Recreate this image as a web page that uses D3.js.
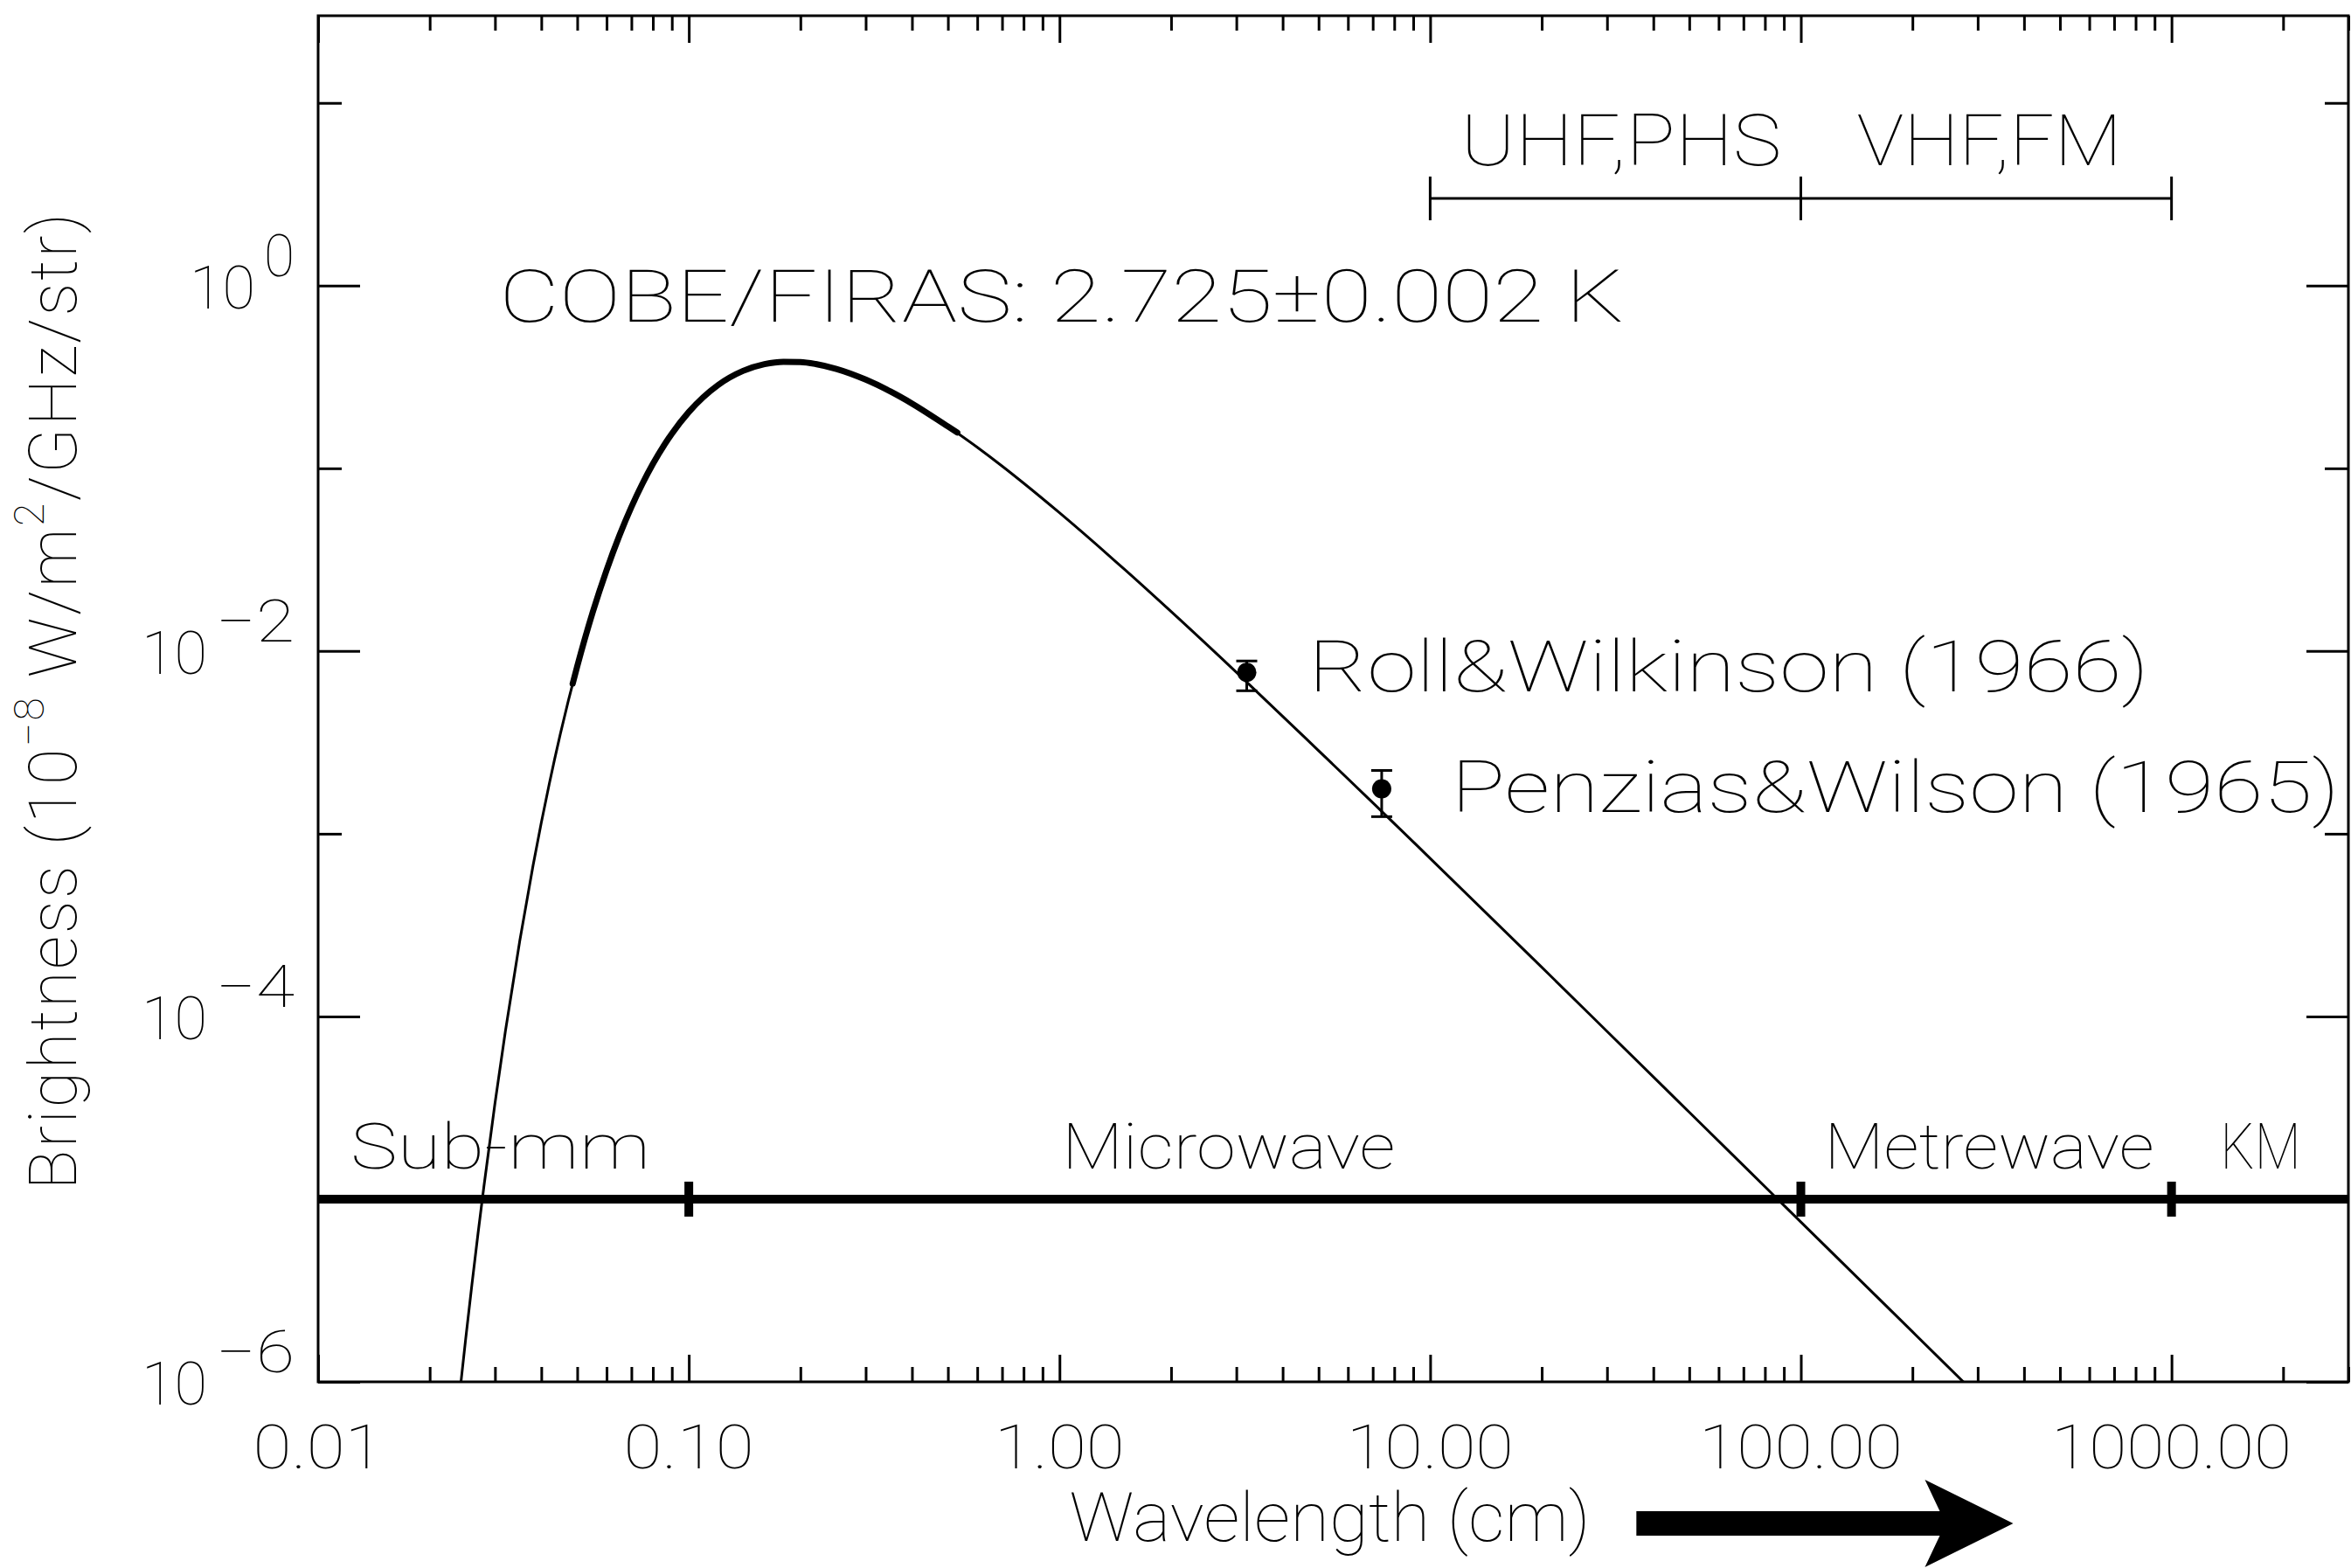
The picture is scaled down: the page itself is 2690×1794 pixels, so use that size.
<!DOCTYPE html>
<html>
<head>
<meta charset="utf-8">
<script src="https://cdn.jsdelivr.net/npm/d3@7"></script>
<style>
  html, body { margin: 0; padding: 0; background: #ffffff; }
  svg { display: block; }
  text { font-family: Roboto, "DejaVu Sans", sans-serif; font-weight: 100; fill: #000; }
</style>
</head>
<body>
<svg id="chart" width="2690" height="1794"></svg>
<script>
// ---------------- DATA ----------------
// Blackbody curve (thin line): wavelength in cm, brightness in 1e-8 W/m^2/GHz/str
const wavelengthCm = [0.024, 0.0243, 0.025, 0.026, 0.027, 0.028, 0.03, 0.032, 0.035, 0.038, 0.04, 0.042, 0.045,
  0.05, 0.055, 0.06, 0.065, 0.07, 0.075, 0.08, 0.09, 0.1, 0.12, 0.14, 0.16, 0.18, 0.2, 0.22, 0.25, 0.3,
  0.35, 0.4, 0.5, 0.6, 0.7, 0.8, 1, 1.5, 2, 3, 5, 7, 10, 20, 30, 50, 100, 200, 280];
const brightness = [8.0e-7, 1.01e-6, 1.71e-6, 3.42e-6, 6.49e-6, 1.17e-5, 3.35e-5, 8.28e-5, 2.60e-4, 6.69e-4, 1.15e-3, 1.86e-3, 3.50e-3,
  8.24e-3, 0.0162, 0.0277, 0.0429, 0.0614, 0.0825, 0.1057, 0.1547, 0.2033, 0.2858, 0.3412, 0.3715, 0.3829, 0.3817, 0.3723, 0.3500, 0.3058,
  0.2633, 0.2263, 0.1695, 0.1304, 0.1029, 0.0830, 0.0571, 0.0279, 0.01644, 7.65e-3, 2.85e-3, 1.48e-3, 7.33e-4, 1.86e-4, 8.29e-5, 2.99e-5, 7.5e-6, 1.88e-6, 9.6e-7];

// COBE/FIRAS measured range (thick line)
const firasWavelengthCm = [0.0486, 0.05, 0.055, 0.06, 0.065, 0.07, 0.075, 0.08, 0.09, 0.1, 0.12, 0.14, 0.16, 0.18,
  0.2, 0.22, 0.25, 0.3, 0.35, 0.4, 0.5, 0.53];
const firasBrightness = [6.62e-3, 8.24e-3, 0.0162, 0.0277, 0.0429, 0.0614, 0.0825, 0.1057, 0.1547, 0.2033, 0.2858, 0.3412, 0.3715, 0.3829,
  0.3817, 0.3723, 0.3500, 0.3058, 0.2633, 0.2263, 0.1695, 0.1570];

// Historic measurements with error bars
const pointNames = ["Roll&Wilkinson (1966)", "Penzias&Wilson (1965)"];
const pointWavelength = [3.2, 7.4];
const pointValue = [7.64e-3, 1.76e-3];
const pointLow = [6.06e-3, 1.24e-3];
const pointHigh = [8.82e-3, 2.22e-3];

// Axis ticks
const xTickValues = [0.01, 0.1, 1, 10, 100, 1000];
const xTickLabels = ["0.01", "0.10", "1.00", "10.00", "100.00", "1000.00"];
const yMajorTicks = [1, 1e-2, 1e-4, 1e-6];
const yTickExponents = ["0", "\u22122", "\u22124", "\u22126"];
const yMinorTicks = [10, 1e-1, 1e-3, 1e-5];

// Wave bands
const bandNames = ["Sub-mm", "Microwave", "Metrewave", "KM"];
const bandEdges = [0.1, 100, 1000];
const bandLevel = 1e-5;
const radioNames = ["UHF,PHS", "VHF,FM"];
const radioEdges = [10, 100, 1000];
const radioLevel = 3;

const titleText = "COBE/FIRAS: 2.725\u00b10.002 K";

// ---------------- LAYOUT / ANNOTATION PLACEMENT ----------------
const W = 2690, H = 1794;
const margin = { left: 364, top: 18, right: 3, bottom: 213 };
const X0 = margin.left, X1 = W - margin.right, Y0 = margin.top, Y1 = H - margin.bottom;

// text spans as [startWavelength, endWavelength, baselineValue]
const titlePlace = [0.0308, 33.4, 0.637];
const pointLabelPlace = [[4.70, 868, 6.0e-3], [11.40, 2838, 1.31e-3]];
const bandLabelPlace = [[0.01223, 0.0788], [1.016, 8.05], [115.8, 897], [1355, 2233]];
const bandLabelBaseline = 1.47e-5;
const radioLabelPlace = [[12.09, 88.7], [141.6, 734]];
const radioLabelBaseline = 4.58;
const arrowSpan = [36, 374];

const svg = d3.select("#chart");
const x = d3.scaleLog().domain([0.01, 3000]).range([X0, X1]);
const y = d3.scaleLog().domain([1e-6, 30]).range([Y1, Y0]);

svg.append("rect").attr("width", W).attr("height", H).attr("fill", "#fff");

svg.append("defs").append("clipPath").attr("id", "plotclip")
  .append("rect").attr("x", X0).attr("y", Y0).attr("width", X1 - X0).attr("height", Y1 - Y0);

// ---------------- AXES (inward ticks on all four sides) ----------------
const minorX = [];
xTickValues.forEach(d => { for (let k = 2; k <= 9; k++) { const v = k * d; if (v <= 3000 * 1.0001) minorX.push(v); } });

function styleAxis(g) {
  g.select(".domain").remove();
  g.selectAll(".tick line").attr("stroke", "#000").attr("stroke-width", 3);
  g.selectAll(".tick text").remove();
}
svg.append("g").attr("transform", `translate(0,${Y1})`)
  .call(d3.axisBottom(x).tickValues(xTickValues).tickSize(-31).tickSizeOuter(0).tickFormat("")).call(styleAxis);
svg.append("g").attr("transform", `translate(0,${Y1})`)
  .call(d3.axisBottom(x).tickValues(minorX).tickSize(-17).tickSizeOuter(0).tickFormat("")).call(styleAxis);
svg.append("g").attr("transform", `translate(0,${Y0})`)
  .call(d3.axisTop(x).tickValues(xTickValues).tickSize(-31).tickSizeOuter(0).tickFormat("")).call(styleAxis);
svg.append("g").attr("transform", `translate(0,${Y0})`)
  .call(d3.axisTop(x).tickValues(minorX).tickSize(-17).tickSizeOuter(0).tickFormat("")).call(styleAxis);
svg.append("g").attr("transform", `translate(${X0},0)`)
  .call(d3.axisLeft(y).tickValues(yMajorTicks).tickSize(-48).tickSizeOuter(0).tickFormat("")).call(styleAxis);
svg.append("g").attr("transform", `translate(${X0},0)`)
  .call(d3.axisLeft(y).tickValues(yMinorTicks).tickSize(-27).tickSizeOuter(0).tickFormat("")).call(styleAxis);
svg.append("g").attr("transform", `translate(${X1},0)`)
  .call(d3.axisRight(y).tickValues(yMajorTicks).tickSize(-48).tickSizeOuter(0).tickFormat("")).call(styleAxis);
svg.append("g").attr("transform", `translate(${X1},0)`)
  .call(d3.axisRight(y).tickValues(yMinorTicks).tickSize(-27).tickSizeOuter(0).tickFormat("")).call(styleAxis);

// frame
svg.append("rect").attr("x", X0).attr("y", Y0).attr("width", X1 - X0).attr("height", Y1 - Y0)
  .attr("fill", "none").attr("stroke", "#000").attr("stroke-width", 3);

// x tick labels
const digitW = 42, dotW = 23;
svg.append("g").selectAll("text").data(xTickValues).join("text")
  .attr("x", d => x(d)).attr("y", Y1 + 99)
  .attr("text-anchor", "middle").attr("font-size", 70)
  .attr("textLength", (d, i) => { const s = xTickLabels[i]; return (s.length - 1) * digitW + dotW; })
  .attr("lengthAdjust", "spacingAndGlyphs")
  .text((d, i) => xTickLabels[i]);

// y tick labels: 10^n  (exponent right-aligned at axis - 27)
const expRight = X0 - 27;
const expWidth = s => (s.length > 1 ? 90 : 35);
const ylg = svg.append("g").selectAll("g").data(yMajorTicks).join("g");
ylg.append("text")
  .attr("x", (d, i) => expRight - expWidth(yTickExponents[i]) - 10 - 75)
  .attr("y", d => y(d) + 26)
  .attr("font-size", 68).attr("textLength", 75).attr("lengthAdjust", "spacingAndGlyphs")
  .text("10");
ylg.append("text")
  .attr("x", (d, i) => expRight - expWidth(yTickExponents[i]))
  .attr("y", d => y(d) - 11)
  .attr("font-size", 66)
  .attr("textLength", (d, i) => expWidth(yTickExponents[i])).attr("lengthAdjust", "spacingAndGlyphs")
  .text((d, i) => yTickExponents[i]);

// axis titles
svg.append("text").attr("x", (X0 + X1) / 2 - 4).attr("y", 1763)
  .attr("text-anchor", "middle").attr("font-size", 78)
  .attr("textLength", 596).attr("lengthAdjust", "spacingAndGlyphs")
  .text("Wavelength (cm)");

const yt = svg.append("text").attr("transform", `translate(87,${(Y0 + Y1) / 2 + 2}) rotate(-90)`)
  .attr("text-anchor", "middle").attr("font-size", 76);
yt.append("tspan").text("Brightness (10");
yt.append("tspan").attr("dy", -37).attr("font-size", 48).text("\u22128");
yt.append("tspan").attr("dy", 37).text(" W/m");
yt.append("tspan").attr("dy", -37).attr("font-size", 48).text("2");
yt.append("tspan").attr("dy", 37).text("/GHz/str)");
(function fit(node, target) {
  const n = node.getNumberOfChars();
  const w = node.getComputedTextLength();
  node.setAttribute("letter-spacing", ((target - w) / n).toFixed(2));
})(yt.node(), 1120);

// ---------------- WAVE BANDS ----------------
svg.append("line").attr("x1", X0).attr("x2", X1).attr("y1", y(bandLevel)).attr("y2", y(bandLevel))
  .attr("stroke", "#000").attr("stroke-width", 10);
svg.append("g").selectAll("rect").data(bandEdges).join("rect")
  .attr("x", d => x(d) - 5).attr("y", y(bandLevel) - 20).attr("width", 10).attr("height", 40).attr("fill", "#000");
svg.append("g").selectAll("text").data(bandNames).join("text")
  .attr("x", (d, i) => x(bandLabelPlace[i][0])).attr("y", y(bandLabelBaseline))
  .attr("font-size", 73)
  .attr("textLength", (d, i) => x(bandLabelPlace[i][1]) - x(bandLabelPlace[i][0]))
  .attr("lengthAdjust", "spacingAndGlyphs")
  .text(d => d);

// radio bracket
svg.append("line").attr("x1", x(radioEdges[0])).attr("x2", x(radioEdges[radioEdges.length - 1]))
  .attr("y1", y(radioLevel)).attr("y2", y(radioLevel)).attr("stroke", "#000").attr("stroke-width", 3);
svg.append("g").selectAll("line").data(radioEdges).join("line")
  .attr("x1", d => x(d)).attr("x2", d => x(d))
  .attr("y1", y(radioLevel) - 25).attr("y2", y(radioLevel) + 25)
  .attr("stroke", "#000").attr("stroke-width", 3);
svg.append("g").selectAll("text").data(radioNames).join("text")
  .attr("x", (d, i) => x(radioLabelPlace[i][0])).attr("y", y(radioLabelBaseline))
  .attr("font-size", 82)
  .attr("textLength", (d, i) => x(radioLabelPlace[i][1]) - x(radioLabelPlace[i][0]))
  .attr("lengthAdjust", "spacingAndGlyphs")
  .text(d => d);

// ---------------- CURVES ----------------
const line = d3.line().x(d => x(d[0])).y(d => y(d[1])).curve(d3.curveMonotoneX);
const plot = svg.append("g").attr("clip-path", "url(#plotclip)");
plot.append("path").datum(d3.zip(wavelengthCm, brightness))
  .attr("d", line).attr("fill", "none").attr("stroke", "#000").attr("stroke-width", 3);
plot.append("path").datum(d3.zip(firasWavelengthCm, firasBrightness))
  .attr("d", line).attr("fill", "none").attr("stroke", "#000").attr("stroke-width", 7)
  .attr("stroke-linecap", "round");

// ---------------- POINTS WITH ERROR BARS ----------------
const pts = svg.append("g").selectAll("g").data(pointNames).join("g");
pts.append("line").attr("x1", (d, i) => x(pointWavelength[i])).attr("x2", (d, i) => x(pointWavelength[i]))
  .attr("y1", (d, i) => y(pointLow[i])).attr("y2", (d, i) => y(pointHigh[i]))
  .attr("stroke", "#000").attr("stroke-width", 3);
[pointLow, pointHigh].forEach(arr => {
  pts.append("line").attr("x1", (d, i) => x(pointWavelength[i]) - 12).attr("x2", (d, i) => x(pointWavelength[i]) + 12)
    .attr("y1", (d, i) => y(arr[i])).attr("y2", (d, i) => y(arr[i]))
    .attr("stroke", "#000").attr("stroke-width", 3);
});
pts.append("circle").attr("cx", (d, i) => x(pointWavelength[i])).attr("cy", (d, i) => y(pointValue[i]))
  .attr("r", 11).attr("fill", "#000");
pts.append("text").attr("x", (d, i) => x(pointLabelPlace[i][0])).attr("y", (d, i) => y(pointLabelPlace[i][2]))
  .attr("font-size", 82)
  .attr("textLength", (d, i) => x(pointLabelPlace[i][1]) - x(pointLabelPlace[i][0]))
  .attr("lengthAdjust", "spacingAndGlyphs")
  .text(d => d);

// title annotation
svg.append("text").attr("x", x(titlePlace[0])).attr("y", y(titlePlace[2]))
  .attr("font-size", 84)
  .attr("textLength", x(titlePlace[1]) - x(titlePlace[0]))
  .attr("lengthAdjust", "spacingAndGlyphs")
  .text(titleText);

// arrow below the x-axis title
const ax0 = x(arrowSpan[0]), ax1 = x(arrowSpan[1]), ay = Y1 + 162;
svg.append("path")
  .attr("d", `M${ax0},${ay - 14} L${ax1 - 84},${ay - 14} L${ax1 - 101},${ay - 50} L${ax1},${ay} L${ax1 - 101},${ay + 50} L${ax1 - 84},${ay + 14} L${ax0},${ay + 14} Z`)
  .attr("fill", "#000");
</script>
</body>
</html>
